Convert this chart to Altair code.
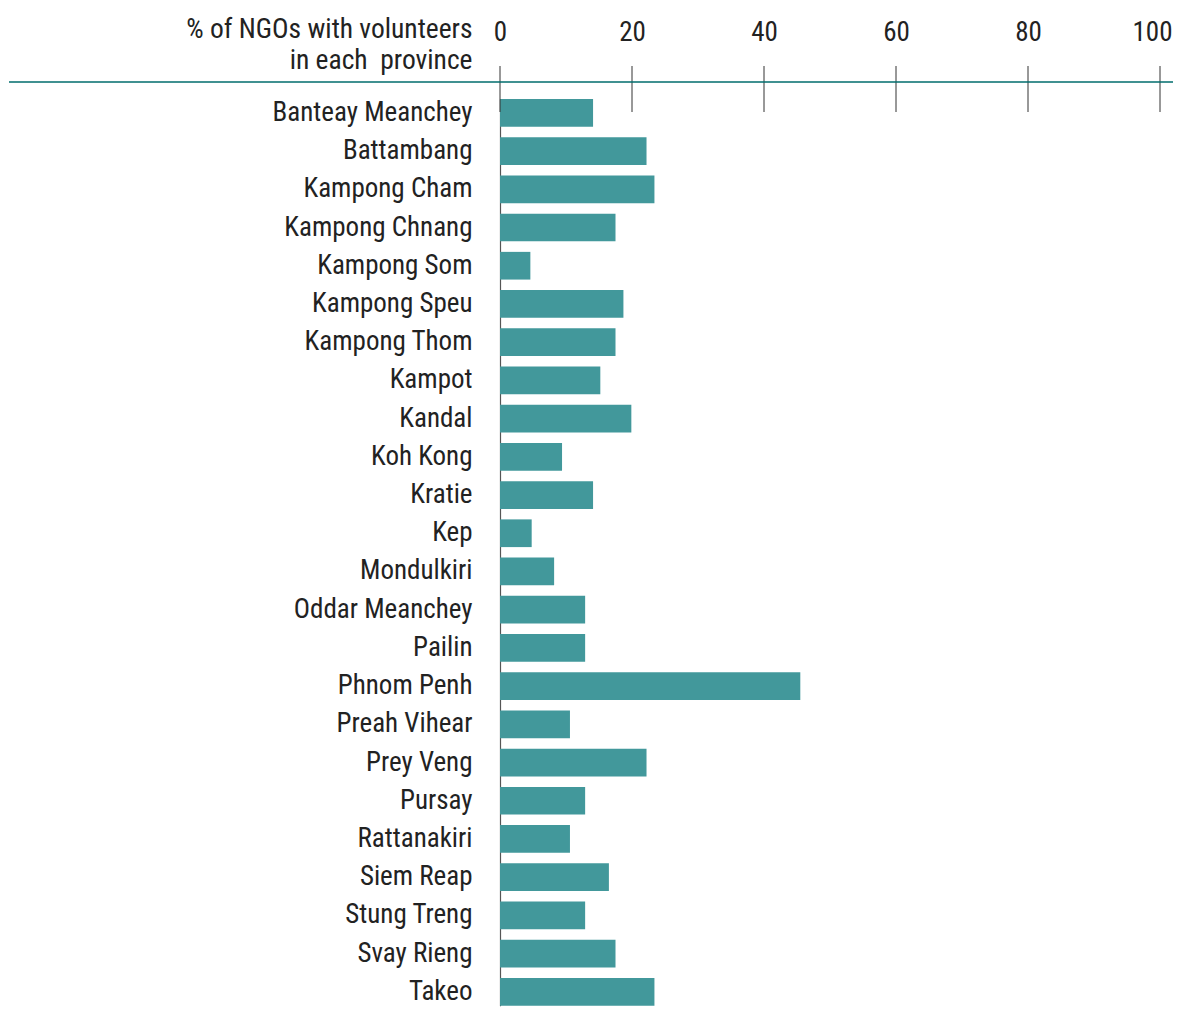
import altair as alt
import pandas as pd

provinces = [
    "Banteay Meanchey", "Battambang", "Kampong Cham", "Kampong Chnang",
    "Kampong Som", "Kampong Speu", "Kampong Thom", "Kampot", "Kandal",
    "Koh Kong", "Kratie", "Kep", "Mondulkiri", "Oddar Meanchey", "Pailin",
    "Phnom Penh", "Preah Vihear", "Prey Veng", "Pursay", "Rattanakiri",
    "Siem Reap", "Stung Treng", "Svay Rieng", "Takeo",
]
pct = [
    14.1, 22.2, 23.4, 17.5,
    4.6, 18.7, 17.5, 15.2, 19.9,
    9.4, 14.1, 4.8, 8.2, 12.9, 12.9,
    45.5, 10.6, 22.2, 12.9, 10.6,
    16.5, 12.9, 17.5, 23.4,
]
tick_values = [0, 20, 40, 60, 80, 100]
title_lines = ["% of NGOs with volunteers", "in each\u00a0 province"]

FONT = "Roboto Condensed, DejaVu Sans Condensed, Roboto, sans-serif"
BAR = "#42989B"
TEXT = "#222222"

df = pd.DataFrame({"province": provinces, "pct": pct})
ticks_df = pd.DataFrame({"tick": tick_values})
one = pd.DataFrame({"a": [0]})

x_scale = alt.Scale(domain=[0, 100], nice=False, zero=True)

bars = alt.Chart(df).mark_bar(color=BAR).encode(
    y=alt.Y(
        "province:N",
        sort=provinces,
        scale=alt.Scale(range=[33, 939.7], paddingInner=0.275, paddingOuter=0),
        axis=alt.Axis(
            domain=True, domainColor="#555555", domainWidth=1.2,
            ticks=False, grid=False, labelLimit=0,
            labelPadding=28, labelFont=FONT, labelFontSize=27, labelColor=TEXT,
            title=title_lines, titleAngle=0, titleAlign="right",
            titleX=-28, titleY=-29, titleBaseline="alphabetic",
            titleFont=FONT, titleFontSize=27.5, titleFontWeight="normal",
            titleColor=TEXT, titleLineHeight=31, titleLimit=0,
        ),
    ),
    x=alt.X(
        "pct:Q",
        scale=x_scale,
        axis=alt.Axis(
            orient="top", values=tick_values, domain=False, ticks=False, grid=False,
            labelFlush=False, labelOverlap=False, labelBound=False,
            labelFont=FONT, labelFontSize=27, labelColor=TEXT,
            labelPadding=26, labelBaseline="alphabetic", title=None,
            labelOffset=alt.ExprRef("datum.value == 100 ? -8 : 0"),
        ),
    ),
)

tick_rules = alt.Chart(ticks_df).mark_rule(color="#333333", strokeWidth=1).encode(
    x=alt.X("tick:Q", scale=x_scale),
    y=alt.value(0),
    y2=alt.value(46),
)

hline = alt.Chart(one).mark_rule(color="#006d6d", strokeWidth=1.5).encode(
    x=alt.value(-491),
    x2=alt.value(681),
    y=alt.value(16),
)

chart = alt.layer(bars, tick_rules, hline).properties(
    width=660,
    height=942,
    autosize=alt.AutoSizeParams(type="none"),
    padding={"left": 492, "top": 58, "right": 13, "bottom": 0},
).configure_view(stroke=None)

chart.save("out.html", embed_options={"renderer": "svg", "actions": False})
